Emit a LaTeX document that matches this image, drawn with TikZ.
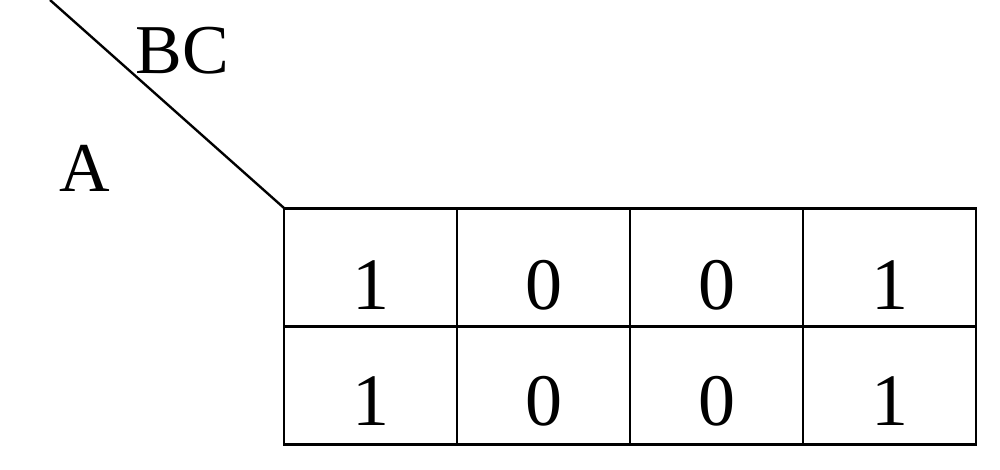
\documentclass[tikz,border=0pt]{standalone}
\usepackage{fontspec}
\setmainfont{Liberation Serif}
\begin{document}
\begin{tikzpicture}[x=0.5pt,y=-0.5pt,
  cell/.style={draw,line width=1.2pt,minimum width=86.5pt,minimum height=59pt,inner sep=0pt},
  num/.style={font=\fontsize{37}{40}\selectfont,inner sep=0pt},
  lbl/.style={font=\fontsize{35}{38}\selectfont,inner sep=0pt}]
\useasboundingbox (0,0) rectangle (1000,470);
\coordinate (tl) at (50,0);
\coordinate (corner) at (284,208);
\draw[line width=1.2pt] (tl) -- (corner);
\node[lbl] (bc) at (182,51) {BC};
\node[lbl] (a) at (85,168) {A};
\foreach \v [count=\i from 0] in {1,0,0,1}{
  \node[cell] (r0c\i) at (370.5+173*\i,267.5) {};
  \node[cell] (r1c\i) at (370.5+173*\i,385.5) {};
  \node[num] (t0c\i) at (370.5+173*\i,285) {\v};
  \node[num] (t1c\i) at (370.5+173*\i,401) {\v};
}
\end{tikzpicture}
\end{document}
